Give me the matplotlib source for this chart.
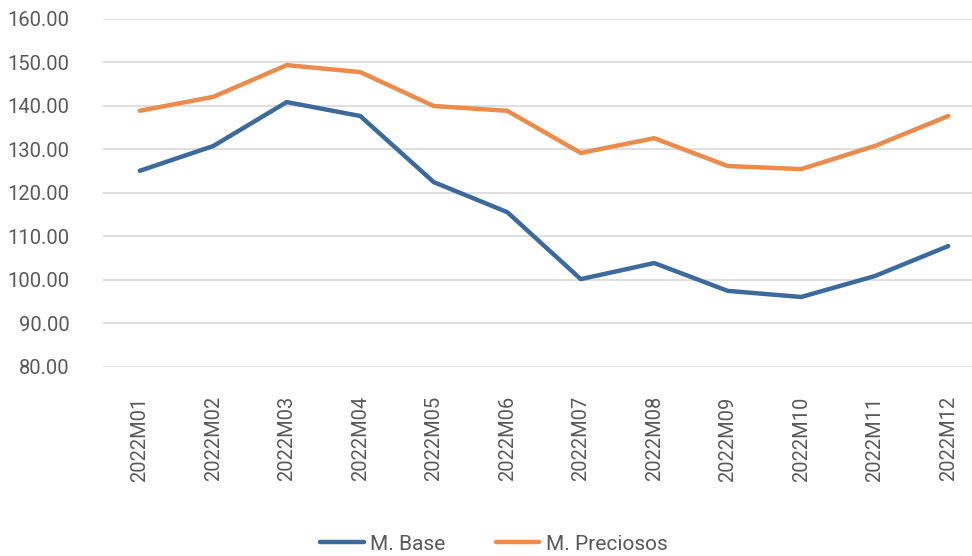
import matplotlib.pyplot as plt
import numpy as np

# datos
meses = ["2022M01", "2022M02", "2022M03", "2022M04", "2022M05", "2022M06",
         "2022M07", "2022M08", "2022M09", "2022M10", "2022M11", "2022M12"]
m_base = [125.1, 130.8, 140.9, 137.7, 122.5, 115.6, 100.2, 103.9, 97.5, 96.1, 100.9, 107.8]
m_preciosos = [138.9, 142.1, 149.4, 147.8, 140.0, 138.9, 129.2, 132.6, 126.2, 125.5, 130.8, 137.7]
y_ticks = [80, 90, 100, 110, 120, 130, 140, 150, 160]

plt.rcParams['font.family'] = ['Roboto', 'DejaVu Sans']
gris = '#595959'

fig = plt.figure(figsize=(9.72, 5.56), dpi=100)
ax = fig.add_axes([103 / 972, 1 - 367 / 556, 882 / 972, 348 / 556])

x = np.arange(len(meses))
ax.plot(x, m_base, color='#3C6A9C', lw=3.2, solid_capstyle='round', label='M. Base')
ax.plot(x, m_preciosos, color='#EC8B4B', lw=3.2, solid_capstyle='round', label='M. Preciosos')

ax.set_xlim(-0.5, len(meses) - 0.5)
ax.set_ylim(80, 160)
ax.set_yticks(y_ticks)
ax.set_yticklabels([f"{v:.2f}" for v in y_ticks])
ax.set_xticks(x)
ax.set_xticklabels(meses, rotation=90)
ax.grid(axis='y', color='#D9D9D9', lw=1.2)
ax.set_axisbelow(True)
for s in ax.spines.values():
    s.set_visible(False)
ax.tick_params(axis='y', length=0, pad=24, labelsize=14.5, labelcolor=gris)
ax.tick_params(axis='x', length=0, pad=21, labelsize=14.5, labelcolor=gris)

fig.legend(loc='center', bbox_to_anchor=(0.508, 1 - 544 / 556), ncol=2, frameon=False,
           fontsize=15, labelcolor=gris, handlelength=2.1, columnspacing=2.4,
           handletextpad=0.3)

fig.savefig('out.png', dpi=100)
